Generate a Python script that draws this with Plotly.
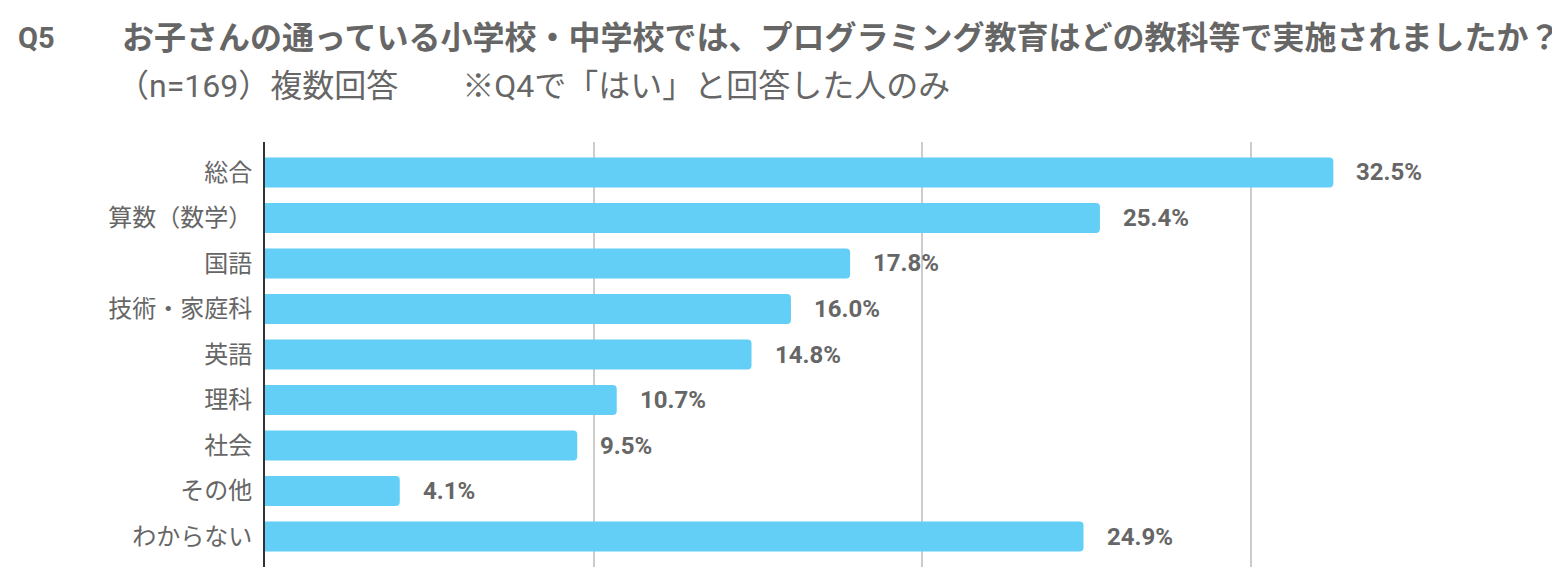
import plotly.graph_objects as go

categories = ["総合", "算数（数学）", "国語", "技術・家庭科", "英語", "理科", "社会", "その他", "わからない"]
values = [32.5, 25.4, 17.8, 16.0, 14.8, 10.7, 9.5, 4.1, 24.9]
value_labels = ["32.5%", "25.4%", "17.8%", "16.0%", "14.8%", "10.7%", "9.5%", "4.1%", "24.9%"]
x_ticks = [0, 10, 20, 30]

title_q = "Q5"
title_main = "お子さんの通っている小学校・中学校では、プログラミング教育はどの教科等で実施されましたか？"
subtitle = "（n=169）複数回答　　※Q4で「はい」と回答した人のみ"

# page body has an 8px margin, so layout coordinates are offset by -8
OFF = 8
W, H = 1560, 584
ML, MT = 265 - OFF, 142 - OFF
PW = 1282
PH = 567 - 142
MR = W - ML - PW
MB = H - MT - PH

FONT = "Roboto, 'Noto Sans CJK JP', sans-serif"
GRAY = "#666666"

fig = go.Figure()
fig.add_trace(go.Bar(
    y=categories, x=values, orientation="h",
    marker=dict(color="#63CEF6", cornerradius=4, line=dict(width=0)),
    width=0.66, hoverinfo="skip",
))

annotations = []
for c, v, lab in zip(categories, values, value_labels):
    annotations.append(dict(
        x=v, y=c, xref="x", yref="y", text=f"<b>{lab}</b>", showarrow=False,
        xanchor="left", yanchor="middle", xshift=21,
        font=dict(family=FONT, size=24, color=GRAY),
    ))

def px_to_paper_x(px):
    return (px - OFF - ML) / PW

def px_to_paper_y(py):
    return 1 - (py - OFF - MT) / PH

annotations.append(dict(
    x=px_to_paper_x(16), y=px_to_paper_y(38), xref="paper", yref="paper",
    text=f"<b>{title_q}</b>", showarrow=False, xanchor="left", yanchor="middle",
    font=dict(family=FONT, size=29, color=GRAY),
))
annotations.append(dict(
    x=px_to_paper_x(120), y=px_to_paper_y(38), xref="paper", yref="paper",
    text=f"<b>{title_main}</b>", showarrow=False, xanchor="left", yanchor="middle",
    font=dict(family=FONT, size=32, color=GRAY),
))
annotations.append(dict(
    x=px_to_paper_x(115), y=px_to_paper_y(86), xref="paper", yref="paper",
    text=subtitle, showarrow=False, xanchor="left", yanchor="middle",
    font=dict(family=FONT, size=32, color=GRAY),
))

fig.update_layout(
    width=W, height=H,
    margin=dict(l=ML, r=MR, t=MT, b=MB, pad=0),
    paper_bgcolor="white", plot_bgcolor="white",
    showlegend=False,
    annotations=annotations,
    font=dict(family=FONT, color=GRAY),
    xaxis=dict(
        range=[0, 39], tickvals=x_ticks, showticklabels=False,
        showgrid=True, gridcolor="#cccccc", gridwidth=1.5,
        zeroline=False, showline=False, fixedrange=True,
    ),
    yaxis=dict(
        categoryorder="array", categoryarray=categories,
        autorange=False, range=[8.67, -0.67],
        showgrid=False, zeroline=False,
        showline=True, linecolor="#333333", linewidth=2,
        ticks="", ticklabelstandoff=6,
        tickfont=dict(family=FONT, size=24, color=GRAY),
        fixedrange=True,
    ),
)

fig.write_html("out.html")
